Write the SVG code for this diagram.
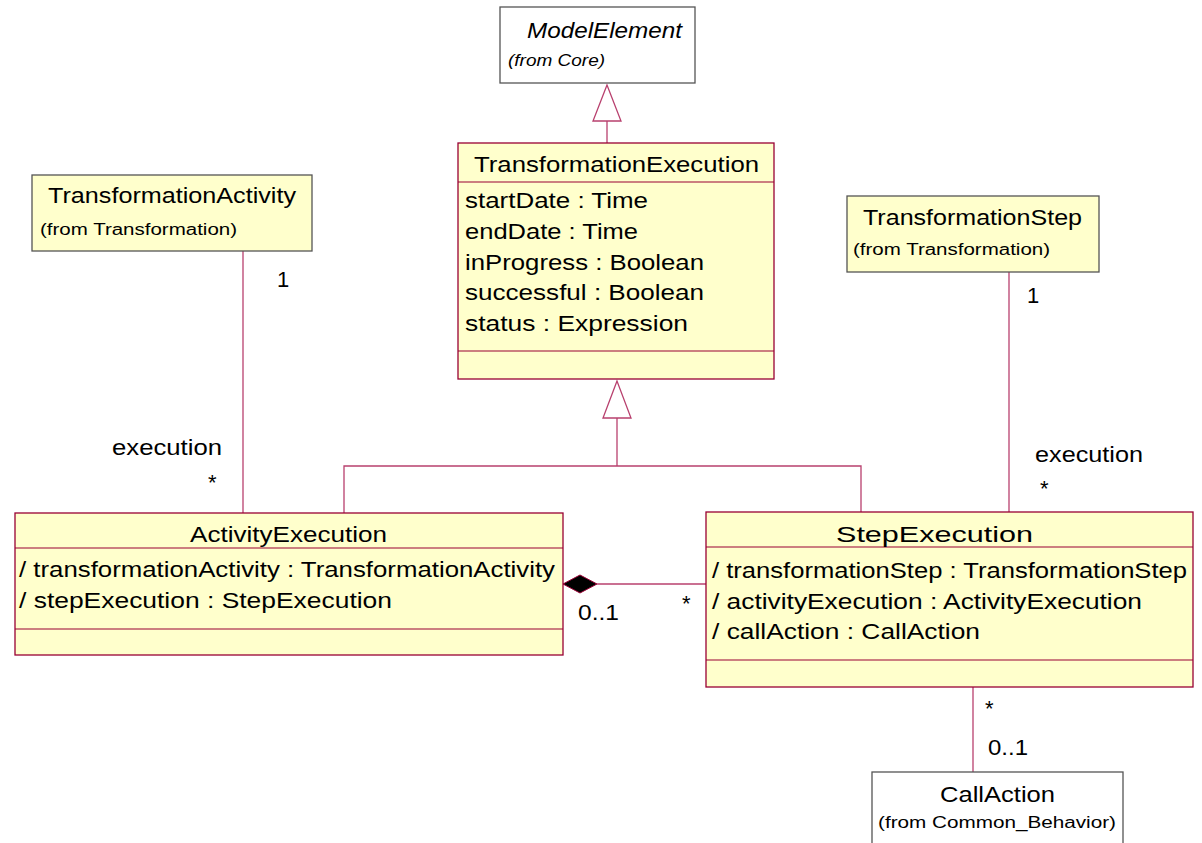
<svg xmlns="http://www.w3.org/2000/svg" width="1202" height="843" viewBox="0 0 1202 843">
  <style>
    .cls { fill: #ffffcc; stroke: #990033; stroke-width: 1.3; }
    .ext { fill: #ffffff; stroke: #555555; stroke-width: 1.3; }
    .sep { stroke: #990033; stroke-width: 1.2; }
    .link { fill: none; stroke: #b8406e; stroke-width: 1.3; }
    text { font-family: "Liberation Sans", Arial, sans-serif; fill: #000000; }
    .t { font-size: 22px; }
    .s { font-size: 16px; }
    .i { font-style: italic; }
  </style>

  <!-- connectors -->
  <g id="connectors">
    <!-- TransformationExecution generalizes ModelElement -->
    <line class="link" x1="607" y1="121" x2="607" y2="143"/>
    <polygon points="607,85 593,121 621,121" fill="#ffffff" stroke="#b8406e" stroke-width="1.3"/>
    <!-- ActivityExecution and StepExecution generalize TransformationExecution -->
    <polyline class="link" points="344,513 344,466 861,466 861,512"/>
    <line class="link" x1="617" y1="418" x2="617" y2="466"/>
    <polygon points="617,381 603,418 631,418" fill="#ffffff" stroke="#b8406e" stroke-width="1.3"/>
    <!-- TransformationActivity to ActivityExecution -->
    <line class="link" x1="243" y1="251" x2="243" y2="513"/>
    <text class="t" x="277" y="287">1</text>
    <text class="t" x="112" y="455" textLength="110" lengthAdjust="spacingAndGlyphs">execution</text>
    <text class="t" x="208" y="490">*</text>
    <!-- TransformationStep to StepExecution -->
    <line class="link" x1="1009" y1="272" x2="1009" y2="512"/>
    <text class="t" x="1027" y="303">1</text>
    <text class="t" x="1035" y="462" textLength="108" lengthAdjust="spacingAndGlyphs">execution</text>
    <text class="t" x="1040" y="496">*</text>
    <!-- composition ActivityExecution <>- StepExecution -->
    <line class="link" x1="597" y1="584" x2="706" y2="584"/>
    <polygon points="563,584 580,575 597,584 580,593" fill="#000000" stroke="#990033" stroke-width="1"/>
    <text class="t" x="578" y="620" textLength="41" lengthAdjust="spacingAndGlyphs">0..1</text>
    <text class="t" x="682" y="611">*</text>
    <!-- StepExecution to CallAction -->
    <line class="link" x1="973" y1="687" x2="973" y2="772"/>
    <text class="t" x="985" y="716">*</text>
    <text class="t" x="988" y="755" textLength="40" lengthAdjust="spacingAndGlyphs">0..1</text>
  </g>

  <!-- ModelElement -->
  <g id="ModelElement">
    <rect class="ext" x="500" y="7" width="195" height="76"/>
    <text class="t i" x="527" y="38" textLength="155" lengthAdjust="spacingAndGlyphs">ModelElement</text>
    <text class="s i" x="508" y="66" textLength="97" lengthAdjust="spacingAndGlyphs">(from Core)</text>
  </g>

  <!-- TransformationExecution -->
  <g id="TransformationExecution">
    <rect class="cls" x="458" y="143" width="316" height="236"/>
    <line class="sep" x1="458" y1="182" x2="774" y2="182"/>
    <line class="sep" x1="458" y1="351" x2="774" y2="351"/>
    <text class="t" x="474" y="172" textLength="285" lengthAdjust="spacingAndGlyphs">TransformationExecution</text>
    <text class="t" x="465" y="208" textLength="183" lengthAdjust="spacingAndGlyphs">startDate : Time</text>
    <text class="t" x="465" y="239" textLength="173" lengthAdjust="spacingAndGlyphs">endDate : Time</text>
    <text class="t" x="465" y="270" textLength="239" lengthAdjust="spacingAndGlyphs">inProgress : Boolean</text>
    <text class="t" x="465" y="300" textLength="239" lengthAdjust="spacingAndGlyphs">successful : Boolean</text>
    <text class="t" x="465" y="331" textLength="223" lengthAdjust="spacingAndGlyphs">status : Expression</text>
  </g>

  <!-- TransformationActivity -->
  <g id="TransformationActivity">
    <rect class="cls" x="32" y="175" width="280" height="76" style="stroke:#555555"/>
    <text class="t" x="48" y="203" textLength="248" lengthAdjust="spacingAndGlyphs">TransformationActivity</text>
    <text class="s" x="40" y="235" textLength="197" lengthAdjust="spacingAndGlyphs">(from Transformation)</text>
  </g>

  <!-- TransformationStep -->
  <g id="TransformationStep">
    <rect class="cls" x="847" y="196" width="252" height="76" style="stroke:#555555"/>
    <text class="t" x="863" y="225" textLength="219" lengthAdjust="spacingAndGlyphs">TransformationStep</text>
    <text class="s" x="853" y="255" textLength="197" lengthAdjust="spacingAndGlyphs">(from Transformation)</text>
  </g>

  <!-- ActivityExecution -->
  <g id="ActivityExecution">
    <rect class="cls" x="15" y="513" width="548" height="142"/>
    <line class="sep" x1="15" y1="548" x2="563" y2="548"/>
    <line class="sep" x1="15" y1="629" x2="563" y2="629"/>
    <text class="t" x="190" y="542" textLength="197" lengthAdjust="spacingAndGlyphs">ActivityExecution</text>
    <text class="t" x="19" y="577" textLength="536" lengthAdjust="spacingAndGlyphs">/ transformationActivity : TransformationActivity</text>
    <text class="t" x="19" y="608" textLength="373" lengthAdjust="spacingAndGlyphs">/ stepExecution : StepExecution</text>
  </g>

  <!-- StepExecution -->
  <g id="StepExecution">
    <rect class="cls" x="706" y="512" width="487" height="175"/>
    <line class="sep" x1="706" y1="547" x2="1193" y2="547"/>
    <line class="sep" x1="706" y1="660" x2="1193" y2="660"/>
    <text class="t" x="836" y="542" textLength="197" lengthAdjust="spacingAndGlyphs">StepExecution</text>
    <text class="t" x="712" y="578" textLength="475" lengthAdjust="spacingAndGlyphs">/ transformationStep : TransformationStep</text>
    <text class="t" x="712" y="609" textLength="430" lengthAdjust="spacingAndGlyphs">/ activityExecution : ActivityExecution</text>
    <text class="t" x="712" y="639" textLength="268" lengthAdjust="spacingAndGlyphs">/ callAction : CallAction</text>
  </g>

  <!-- CallAction -->
  <g id="CallAction">
    <rect class="ext" x="872" y="772" width="251" height="80"/>
    <text class="t" x="940" y="802" textLength="115" lengthAdjust="spacingAndGlyphs">CallAction</text>
    <text class="s" x="878" y="828" textLength="238" lengthAdjust="spacingAndGlyphs">(from Common_Behavior)</text>
  </g>
</svg>
